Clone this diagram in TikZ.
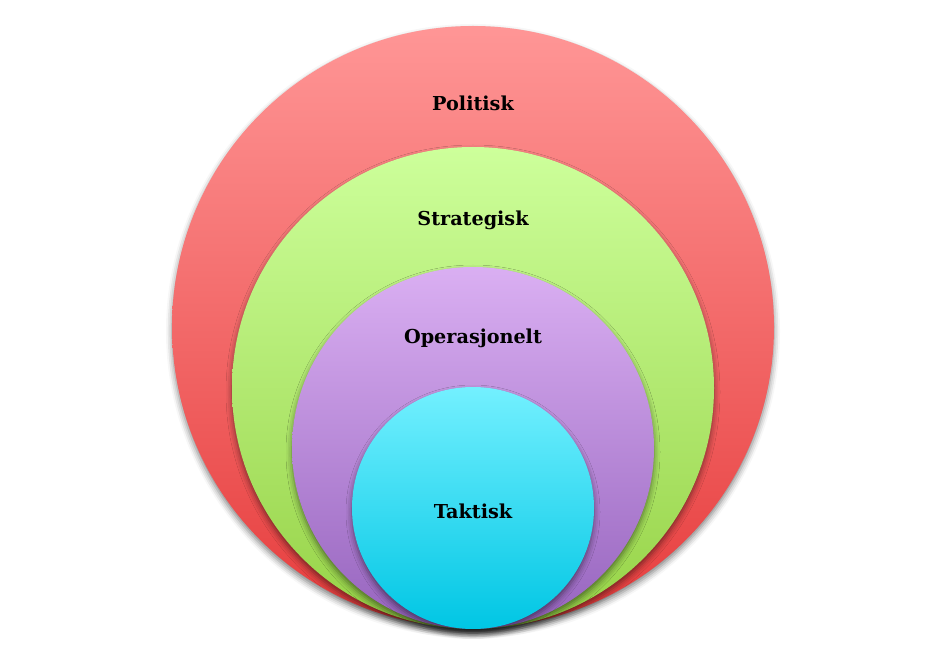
\documentclass[tikz,border=0pt]{standalone}
\usepackage{fontspec}
\setmainfont{DejaVu Serif}
\usetikzlibrary{shadows.blur}
\definecolor{redT}{RGB}{255,150,150}
\definecolor{redB}{RGB}{230,60,60}
\definecolor{grnT}{RGB}{205,255,155}
\definecolor{grnB}{RGB}{150,210,70}
\definecolor{purT}{RGB}{218,175,242}
\definecolor{purB}{RGB}{150,100,190}
\definecolor{cyaT}{RGB}{115,240,255}
\definecolor{cyaB}{RGB}{0,198,228}
\tikzset{
  ring/.style={circle, inner sep=0pt, draw=none, shading=axis, shading angle=0,
    blur shadow={shadow xshift=0pt, shadow yshift=-4pt, shadow blur radius=6pt, shadow opacity=50}},
  lbl/.style={font=\fontsize{19.2}{23}\selectfont\bfseries, text=black}
}
\begin{document}
\begin{tikzpicture}[x=1pt,y=1pt]
\useasboundingbox (0,0) rectangle (948,657);
\node[ring, minimum size=602pt, top color=redT, bottom color=redB] (politisk) at (473,330) {};
\node[ring, minimum size=482pt, top color=grnT, bottom color=grnB] (strategisk) at (473,269) {};
\node[ring, minimum size=362pt, top color=purT, bottom color=purB] (operasjonelt) at (473,209) {};
\node[ring, minimum size=242pt, top color=cyaT, bottom color=cyaB] (taktisk) at (473,149) {};
\node[lbl] (tpol) at (473,554) {Politisk};
\node[lbl] (tstr) at (473,437) {Strategisk};
\node[lbl] (tope) at (473,319) {Operasjonelt};
\node[lbl] (ttak) at (473,146) {Taktisk};
\end{tikzpicture}
\end{document}
